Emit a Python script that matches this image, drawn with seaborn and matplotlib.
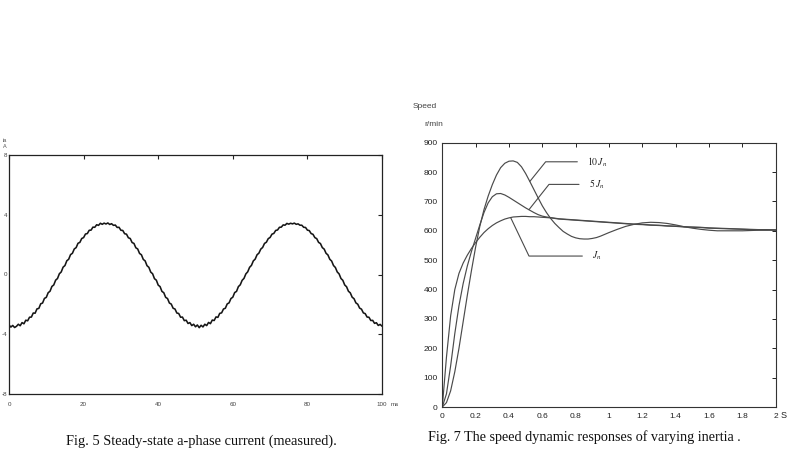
import numpy as np
import pandas as pd
import matplotlib
matplotlib.use("Agg")
import matplotlib.pyplot as plt
import seaborn as sns

# ---------------- data: Fig. 5 (steady-state a-phase current, 0.5 ms samples) ----------------
t_ms = np.arange(0, 100.5, 0.5)
ia = [
    -3.38, -3.52, -3.41, -3.55, -3.47, -3.33, -3.43, -3.22, -3.30, -3.06,
    -3.10, -2.86, -2.85, -2.58, -2.59, -2.30, -2.27, -1.96, -1.91, -1.60,
    -1.53, -1.22, -1.12, -0.80, -0.70, -0.38, -0.27, 0.05, 0.17, 0.49,
    0.60, 0.92, 1.02, 1.33, 1.42, 1.71, 1.80, 2.09, 2.15, 2.41,
    2.47, 2.71, 2.74, 2.96, 2.97, 3.17, 3.16, 3.33, 3.29, 3.43,
    3.36, 3.44, 3.38, 3.45, 3.35, 3.40, 3.29, 3.31, 3.15, 3.16,
    2.96, 2.95, 2.73, 2.70, 2.46, 2.41, 2.14, 2.08, 1.79, 1.71,
    1.41, 1.32, 1.01, 0.91, 0.59, 0.48, 0.16, 0.05, -0.28, -0.38,
    -0.71, -0.81, -1.13, -1.22, -1.53, -1.61, -1.91, -1.98, -2.26, -2.31,
    -2.58, -2.61, -2.86, -2.85, -3.09, -3.06, -3.28, -3.22, -3.42, -3.33,
    -3.50, -3.38, -3.56, -3.40, -3.51, -3.33, -3.42, -3.21, -3.29, -3.05,
    -3.08, -2.84, -2.87, -2.60, -2.57, -2.31, -2.26, -1.97, -1.90, -1.61,
    -1.52, -1.21, -1.13, -0.81, -0.69, -0.39, -0.26, 0.04, 0.18, 0.48,
    0.61, 0.91, 1.03, 1.32, 1.43, 1.70, 1.81, 2.08, 2.16, 2.40,
    2.48, 2.70, 2.75, 2.95, 2.98, 3.16, 3.17, 3.32, 3.30, 3.42,
    3.37, 3.43, 3.39, 3.44, 3.36, 3.39, 3.30, 3.30, 3.16, 3.15,
    2.97, 2.94, 2.74, 2.69, 2.47, 2.40, 2.15, 2.07, 1.80, 1.70,
    1.42, 1.31, 1.02, 0.90, 0.60, 0.47, 0.17, 0.04, -0.27, -0.39,
    -0.70, -0.82, -1.12, -1.23, -1.52, -1.62, -1.90, -1.99, -2.25, -2.32,
    -2.57, -2.62, -2.85, -2.86, -3.08, -3.07, -3.27, -3.23, -3.41, -3.34,
    -3.46,
]
ia_ticks = [8, 4, 0, -4, -8]
ia_ticklabels = ["8", "4", "0", "-4", "-8"]
ms_ticks = [0, 20, 40, 60, 80, 100]
ms_ticklabels = ["0", "20", "40", "60", "80", "100"]

# ---------------- data: Fig. 7 (speed responses) ----------------
t_s = [0.0, 0.025, 0.05, 0.075, 0.1, 0.125, 0.15, 0.175, 0.2, 0.225,
       0.25, 0.275, 0.3, 0.325, 0.35, 0.375, 0.4, 0.425, 0.45, 0.475,
       0.5, 0.525, 0.55, 0.575, 0.6, 0.625, 0.65, 0.675, 0.7, 0.725,
       0.75, 0.775, 0.8, 0.825, 0.85, 0.875, 0.9, 0.925, 0.95, 0.975,
       1.0, 1.05, 1.1, 1.15, 1.2, 1.25, 1.3, 1.35, 1.4, 1.45,
       1.5, 1.55, 1.6, 1.65, 1.7, 1.75, 1.8, 1.85, 1.9, 1.95, 2.0]
speed_10Jn = [0, 15, 55, 120, 200, 290, 380, 465, 545, 615,
              672, 718, 757, 790, 815, 830, 837, 838, 833, 818,
              795, 768, 740, 712, 685, 662, 642, 625, 611, 598,
              589, 581, 576, 573, 572, 572, 574, 577, 582, 588,
              594, 605, 615, 622, 627, 629, 628, 625, 620, 614,
              609, 605, 602, 600, 600, 600, 600, 601, 602, 602, 603]
speed_5Jn = [0, 45, 140, 250, 345, 420, 480, 530, 575, 620,
             662, 695, 716, 726, 727, 722, 714, 705, 696, 687,
             678, 670, 662, 655, 650, 647, 645, 643, 641, 640,
             639, 638, 637, 636, 635, 634, 633, 632, 631, 630,
             629, 627, 625, 623, 622, 620, 619, 617, 616, 614,
             613, 612, 610, 609, 608, 607, 606, 605, 604, 604, 603]
speed_Jn = [0, 170, 310, 400, 455, 490, 517, 540, 560, 578,
            594, 607, 618, 627, 634, 640, 644, 647, 648, 649,
            649, 648, 648, 647, 646, 645, 644, 642, 640, 639,
            638, 637, 636, 635, 634, 633, 632, 631, 630, 629,
            628, 626, 624, 622, 621, 619, 618, 616, 615, 613,
            612, 611, 609, 608, 607, 606, 605, 604, 603, 603, 602]
s_ticks = [0, 0.2, 0.4, 0.6, 0.8, 1.0, 1.2, 1.4, 1.6, 1.8, 2.0]
s_ticklabels = ["0", "0.2", "0.4", "0.6", "0.8", "1", "1.2", "1.4", "1.6", "1.8", "2"]
rpm_ticks = [0, 100, 200, 300, 400, 500, 600, 700, 800, 900]
series_names = ["10Jn", "5Jn", "Jn"]
series_labels = [r"$10\,J_n$", r"$5\,J_n$", r"$J_n$"]

df = pd.DataFrame({
    "t": t_s * 3,
    "speed": speed_10Jn + speed_5Jn + speed_Jn,
    "case": sum([[n] * len(t_s) for n in series_names], []),
})

# ---------------- style ----------------
sns.set_theme(style="white")
plt.rcParams['font.family'] = ['Liberation Sans', 'DejaVu Sans']
plt.rcParams['mathtext.fontset'] = 'stix'

W, H = 788, 457
fig = plt.figure(figsize=(W / 100, H / 100), dpi=100)
fig.patch.set_facecolor("white")

axL = fig.add_axes([9 / W, 1 - 394 / H, 373 / W, 239 / H])
axR = fig.add_axes([442.3 / W, 1 - 407 / H, 333.4 / W, 264.3 / H])

# ---------------- left panel ----------------
sns.lineplot(x=t_ms, y=ia, ax=axL, color="#161616", linewidth=1.15)
axL.set_xlim(0, 100)
axL.set_ylim(-8, 8)
axL.set_xticks(ms_ticks)
axL.set_xticklabels(ms_ticklabels)
axL.set_yticks(ia_ticks)
axL.set_yticklabels(ia_ticklabels)
axL.tick_params(direction="in", top=True, right=True, length=3, width=0.8,
                labelsize=4.5, colors="#222222", labelcolor="#444444")
axL.tick_params(axis="x", pad=6)
axL.tick_params(axis="y", pad=1.5)
for sp in axL.spines.values():
    sp.set_linewidth(0.9)
    sp.set_color("#222222")
axL.set_xlabel("")
axL.set_ylabel("")
fig.text(391 / W, 1 - 405 / H, "ms", fontsize=4.5, color="#444444", va="center")
fig.text(3 / W, 1 - 141 / H, "ia", fontsize=4, color="#555555", va="center")
fig.text(3 / W, 1 - 147 / H, "A", fontsize=4, color="#555555", va="center")

# ---------------- right panel ----------------
sns.lineplot(data=df, x="t", y="speed", hue="case", ax=axR,
             palette={n: "#4a4a4a" for n in series_names},
             linewidth=0.85, legend=False)
axR.set_xlim(0, 2)
axR.set_ylim(0, 900)
axR.set_xticks(s_ticks)
axR.set_xticklabels(s_ticklabels)
axR.set_yticks(rpm_ticks)
axR.tick_params(direction="in", top=True, right=True, length=3, width=0.7,
                labelsize=6, colors="#222222", labelcolor="#222222")
axR.tick_params(axis="x", pad=4)
axR.tick_params(axis="y", pad=3.5)
for sp in axR.spines.values():
    sp.set_linewidth(0.8)
    sp.set_color("#333333")
axR.set_xlabel("")
axR.set_ylabel("")

# leader lines and labels
leaders = [
    ([0.525, 0.62, 0.81], [768, 835, 835], 0.87, 835),
    ([0.52, 0.64, 0.82], [672, 758, 758], 0.88, 758),
    ([0.41, 0.52, 0.84], [645, 514, 514], 0.90, 514),
]
for (lx, ly, tx, ty), lab in zip(leaders, series_labels):
    axR.plot(lx, ly, color="#4a4a4a", linewidth=0.8)
    axR.text(tx, ty, lab, fontsize=7, va="center", ha="left", color="#222222")

fig.text(413 / W, 1 - 107 / H, "Speed", fontsize=6, color="#444444", va="center")
fig.text(424 / W, 1 - 124 / H, "r/min", fontsize=6, color="#444444", va="center")
fig.text(781 / W, 1 - 415 / H, "S", fontsize=6.5, color="#222222", va="center")

# ---------------- captions ----------------
fig.text(201 / W, 1 - 441 / H, "Fig. 5 Steady-state a-phase current (measured).",
         ha="center", va="center", fontsize=10.4, family="Liberation Serif", color="#111111")
fig.text(584 / W, 1 - 437 / H, "Fig. 7 The speed dynamic responses of varying inertia .",
         ha="center", va="center", fontsize=10.2, family="Liberation Serif", color="#111111")

fig.savefig("out.png", dpi=100, facecolor="white")
